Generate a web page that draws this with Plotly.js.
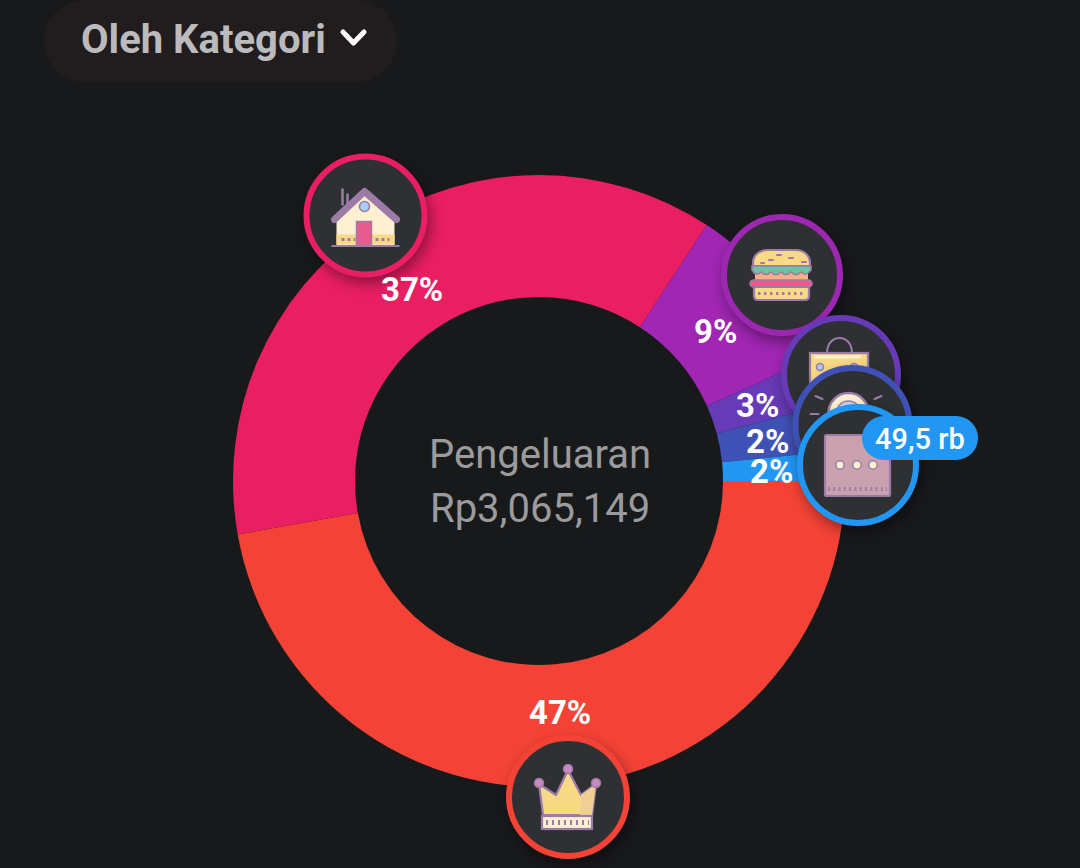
<!DOCTYPE html>
<html>
<head>
<meta charset="utf-8">
<script src="https://cdn.plot.ly/plotly-3.0.1.min.js"></script>
<style>html,body{margin:0;padding:0;background:#18191b;overflow:hidden}#chart{width:1080px;height:868px}</style>
</head>
<body>
<div id="chart"></div>
<script>
// Slice sizes as drawn (rupiah), and the labels printed on them
const categories = ['Tagihan', 'Rumah', 'Makanan', 'Belanja', 'Lainnya 1', 'Lainnya 2'];
const amounts = [1447000, 1135000, 278000, 78000, 77649, 49500];
const percentLabels = ['47%', '37%', '9%', '3%', '2%', '2%'];
const sliceColors = ['#f44336', '#e91e63', '#a026b3', '#673ab7', '#3f51b5', '#2196f3'];
const centerTitle = 'Pengeluaran';
const centerAmount = 'Rp3,065,149';
const dropdownText = 'Oleh Kategori';
const bubbleText = '49,5 rb';

const W = 1080, H = 868;
const CX = 539, CY = 481, R = 306, HOLE = 184;
const px = x => x / W;
const py = y => 1 - y / H;

const labelPos = [[560, 712], [412, 289], [715, 331], [757, 405], [767, 442], [771, 471]];

const M = '#9c7ca6', Y = '#f8d985', C = '#fdf0d2', P = '#e75c8d', G = '#6cc3a5', O = '#f4b183';
const icons = {
  home: `<path d="M-23 -27V-10M-18 -22V-10" stroke="${M}" stroke-width="2.5" fill="none"/>
    <path d="M-29 3L-1 -22L29 3V30H-29Z" fill="${C}"/>
    <rect x="-29" y="19" width="58" height="10" fill="${Y}"/>
    <path d="M-24 24h14M10 24h14" stroke="${M}" stroke-width="3" stroke-dasharray="3 3"/>
    <path d="M-31 4L-1 -24L31 4" fill="none" stroke="${M}" stroke-width="7" stroke-linejoin="round" stroke-linecap="round"/>
    <circle cx="-1" cy="-9" r="5" fill="#a9cdf5" stroke="${M}" stroke-width="1.6"/>
    <rect x="-9" y="6" width="15" height="24" fill="${P}" stroke="${M}" stroke-width="1.5"/>
    <path d="M-34 30.500H34" stroke="${M}" stroke-width="2"/>`,
  burger: `<path d="M-29 -9V-12C-29 -20 -22 -25 -15 -25H14C21 -25 28 -20 28 -12V-9Z" fill="${Y}" stroke="${M}" stroke-width="2.2"/>
    <path d="M-13 -15h4M-5 -20h4M7 -17h4M20 -13h4M-21 -12h3" stroke="${M}" stroke-width="2" stroke-linecap="round"/>
    <path d="M-27 -4H26V5H-27Z" fill="${O}"/>
    <path d="M-30 -9H29V-5Q24 2 19 -3Q14 2 9 -3Q4 2 -1 -3Q-6 2 -11 -3Q-16 2 -21 -3Q-26 2 -30 -5Z" fill="${G}" stroke="${M}" stroke-width="1.6"/>
    <rect x="-32" y="5" width="62" height="7" rx="3.5" fill="${P}" stroke="${M}" stroke-width="1.5"/>
    <path d="M-28 12H27V21Q27 25 23 25H-24Q-28 25 -28 21Z" fill="${Y}" stroke="${M}" stroke-width="2.2"/>
    <path d="M-24 18.500H24" stroke="${M}" stroke-width="3" stroke-dasharray="2.4 3.6"/>`,
  bag: `<path d="M-14 -22C-14 -42 11 -42 11 -22" fill="none" stroke="${M}" stroke-width="2"/>
    <rect x="-31" y="-22" width="58" height="60" fill="${Y}" stroke="${M}" stroke-width="2.2"/>
    <path d="M-27 -18H20" stroke="${C}" stroke-width="3"/>
    <circle cx="-21" cy="-8" r="3.5" fill="#a9cdf5" stroke="${M}" stroke-width="1.6"/>
    <circle cx="13" cy="-8" r="3.5" fill="#a9cdf5" stroke="${M}" stroke-width="1.6"/>`,
  dome: `<circle cx="-4" cy="-12" r="20" fill="${C}" stroke="${M}" stroke-width="2.5"/>
    <circle cx="-4" cy="-12" r="12" fill="#cfd8e6" stroke="${M}" stroke-width="1.6"/>
    <path d="M-37 -29L-30 -26M29 -29L22 -26M-42 -11H-34" stroke="${M}" stroke-width="2" stroke-linecap="round"/>`,
  dots: `<rect x="-33" y="-30" width="65" height="61" rx="1.5" fill="#c9a0ae" stroke="${M}" stroke-width="2.2"/>
    <circle cx="-18" cy="0" r="4.2" fill="${C}" stroke="${M}" stroke-width="1.5"/>
    <circle cx="-1" cy="0" r="4.2" fill="${C}" stroke="${M}" stroke-width="1.5"/>
    <circle cx="15" cy="0" r="4.2" fill="${C}" stroke="${M}" stroke-width="1.5"/>
    <path d="M-30 24H29" stroke="${M}" stroke-width="4" stroke-dasharray="1.8 3.5"/>`,
  crown: `<path d="M-25 18L-29 -13L-12 -2L0 -27L13 -2L28 -13L24 18Z" fill="${Y}" stroke="${M}" stroke-width="2.2" stroke-linejoin="round"/>
    <path d="M13 -2L28 -13L24 18H12Z" fill="#f0cf96"/>
    <circle cx="0" cy="-28" r="4.5" fill="#c98ac4" stroke="${M}" stroke-width="1.5"/>
    <circle cx="-29" cy="-14" r="4.5" fill="#c98ac4" stroke="${M}" stroke-width="1.5"/>
    <circle cx="28" cy="-14" r="4.5" fill="#c98ac4" stroke="${M}" stroke-width="1.5"/>
    <rect x="-26" y="19" width="50" height="13" fill="${C}" stroke="${M}" stroke-width="2.2"/>
    <path d="M-22 25.500H21" stroke="${M}" stroke-width="5" stroke-dasharray="2 4"/>`
};

function svgUri(w, h, body) {
  const s = `<svg xmlns="http://www.w3.org/2000/svg" width="${w}" height="${h}" viewBox="0 0 ${w} ${h}">${body}</svg>`;
  return 'data:image/svg+xml,' + encodeURIComponent(s);
}
function badge(cx, cy, r, color, icon) {
  const S = 176, c = S / 2;
  const body = `<defs><filter id="b" x="-50%" y="-50%" width="200%" height="200%"><feGaussianBlur stdDeviation="7"/></filter>
    <clipPath id="k"><circle cx="${c}" cy="${c}" r="${r - 4}"/></clipPath></defs>
    <circle cx="${c + 3}" cy="${c + 6}" r="${r}" fill="#000" opacity="0.4" filter="url(#b)"/>
    <circle cx="${c}" cy="${c}" r="${r - 3}" fill="#2f3033" stroke="${color}" stroke-width="6"/>
    <g clip-path="url(#k)"><g transform="translate(${c} ${c})">${icons[icon]}</g></g>`;
  return {source: svgUri(S, S, body), xref: 'paper', yref: 'paper', x: px(cx - c), y: py(cy - c),
    sizex: S / W, sizey: S / H, xanchor: 'left', yanchor: 'top', sizing: 'stretch', layer: 'above'};
}
function panel(x, y, w, h, body) {
  return {source: svgUri(w, h, body), xref: 'paper', yref: 'paper', x: px(x), y: py(y),
    sizex: w / W, sizey: h / H, xanchor: 'left', yanchor: 'top', sizing: 'stretch', layer: 'above'};
}

const images = [
  panel(44, 0, 353, 82, `<path d="M41 0H312C335 0 353 18 353 41S335 82 312 82H41C18 82 0 64 0 41S18 0 41 0Z" fill="#211d1f"/>
     <path d="M299 32L309.500 43L320 32" fill="none" stroke="#ffffff" stroke-width="5" stroke-linecap="round" stroke-linejoin="round"/>`),
  badge(365.5, 215.5, 62, '#e91e63', 'home'),
  badge(568, 797, 62, '#f44336', 'crown'),
  badge(782, 275, 61, '#9c27b0', 'burger'),
  badge(841, 375, 60, '#673ab7', 'bag'),
  badge(852.5, 425, 60, '#3f51b5', 'dome'),
  badge(858, 465, 61, '#2196f3', 'dots'),
  panel(862, 416, 116, 44, `<rect width="116" height="44" rx="22" fill="#2196f3"/>`)
];

const annotations = percentLabels.map((t, i) => ({
  text: t, xref: 'paper', yref: 'paper', x: px(labelPos[i][0]), y: py(labelPos[i][1]),
  xanchor: 'center', yanchor: 'middle', showarrow: false,
  font: {family: 'Roboto', size: 33, color: '#ffffff', weight: 700}
}));
annotations.push(
  {text: centerTitle, xref: 'paper', yref: 'paper', x: px(CX + 1), y: py(454), xanchor: 'center', yanchor: 'middle',
   showarrow: false, font: {family: 'Roboto', size: 40, color: '#9b9b9d'}},
  {text: centerAmount, xref: 'paper', yref: 'paper', x: px(CX + 1), y: py(508), xanchor: 'center', yanchor: 'middle',
   showarrow: false, font: {family: 'Roboto', size: 40, color: '#9b9b9d'}},
  {text: dropdownText, xref: 'paper', yref: 'paper', x: px(203), y: py(39), xanchor: 'center', yanchor: 'middle',
   showarrow: false, font: {family: 'Roboto', size: 40, color: '#bbbbbd', weight: 700}},
  {text: bubbleText, xref: 'paper', yref: 'paper', x: px(920), y: py(439), xanchor: 'center', yanchor: 'middle',
   showarrow: false, font: {family: 'Roboto', size: 29, color: '#ffffff', weight: 500}}
);

const trace = {
  type: 'pie', labels: categories, values: amounts, sort: false, direction: 'clockwise', rotation: 90,
  hole: HOLE / R, textinfo: 'none', hoverinfo: 'skip', showlegend: false,
  marker: {colors: sliceColors, line: {width: 0}},
  domain: {x: [px(CX - R), px(CX + R)], y: [py(CY + R), py(CY - R)]}
};

Plotly.newPlot('chart', [trace], {
  width: W, height: H, margin: {l: 0, r: 0, t: 0, b: 0},
  paper_bgcolor: '#18191b', plot_bgcolor: '#18191b', showlegend: false,
  images, annotations
}, {displayModeBar: false, staticPlot: true});
</script>
</body>
</html>
